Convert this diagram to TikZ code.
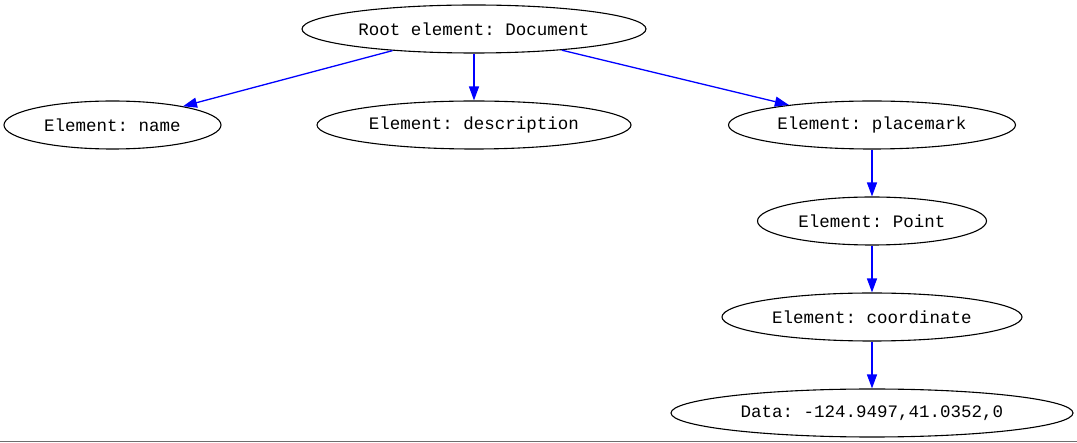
\documentclass[tikz,border=0pt]{standalone}
\usepackage{fontspec}
\setmonofont{Liberation Mono}
\usetikzlibrary{shapes.geometric,arrows.meta}
\definecolor{edgeblue}{RGB}{0,0,255}
\definecolor{rulegray}{RGB}{110,110,110}
\tikzset{
  elnode/.style={ellipse, draw=black, line width=1.1pt, inner sep=0pt,
    minimum height=48pt, font=\ttfamily\fontsize{17.5}{20}\selectfont},
  edgearrow/.style={draw=edgeblue, line width=1.3pt,
    -{Triangle[length=14pt,width=10pt]}, shorten >=0pt}
}
\begin{document}
\begin{tikzpicture}[x=1pt,y=-1pt]
\useasboundingbox (0,0) rectangle (1077,443);
\node[elnode, minimum width=344pt] (root) at (474,29) {Root element: Document};
\node[elnode, minimum width=217pt] (name) at (112.5,125) {Element: name};
\node[elnode, minimum width=314pt] (desc) at (474,125) {Element: description};
\node[elnode, minimum width=287pt] (place) at (872,125) {Element: placemark};
\node[elnode, minimum width=229pt] (point) at (872,221) {Element: Point};
\node[elnode, minimum width=300pt] (coord) at (872,317) {Element: coordinate};
\node[elnode, minimum width=402pt] (data) at (872,413) {Data: -124.9497,41.0352,0};
\draw[edgearrow] (root) -- (name);
\draw[edgearrow] (root) -- (desc);
\draw[edgearrow] (root) -- (place);
\draw[edgearrow] (place) -- (point);
\draw[edgearrow] (point) -- (coord);
\draw[edgearrow] (coord) -- (data);
\coordinate (ruleL) at (0,442);
\coordinate (ruleR) at (1077,442);
\draw[rulegray, line width=1pt] (ruleL) -- (ruleR);
\end{tikzpicture}
\end{document}
